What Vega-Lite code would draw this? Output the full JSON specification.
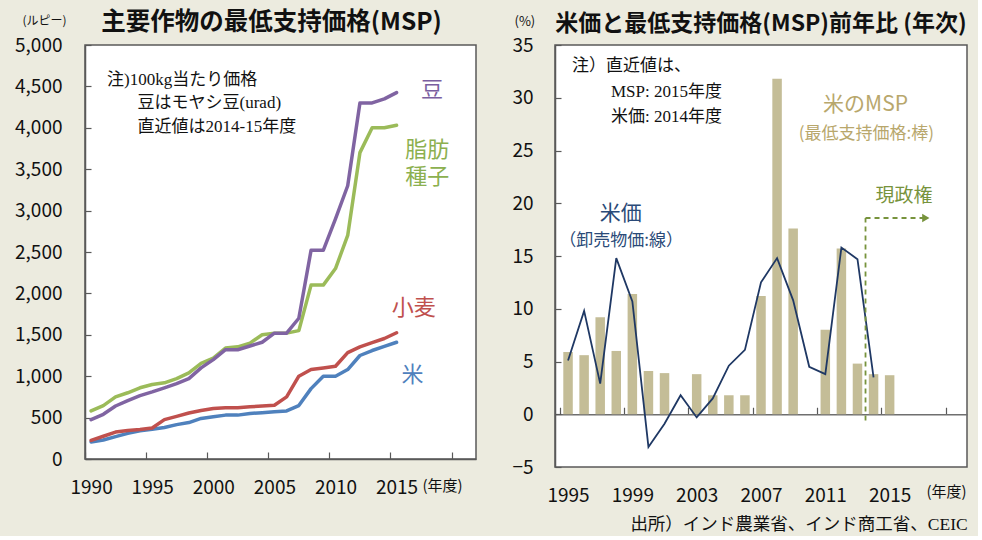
{
  "$schema": "https://vega.github.io/schema/vega-lite/v6.json",
  "background": "#ecebdf",
  "padding": {"left": 13, "top": 8, "right": 10, "bottom": 2},
  "config": {
    "font": "Noto Sans CJK JP",
    "view": {"stroke": "#595959", "strokeWidth": 1.5, "fill": "white"},
    "axis": {"labelFont": "Noto Sans CJK JP", "labelColor": "#111111", "labelFontSize": 19, "domainColor": "#595959", "domainWidth": 1.5, "tickColor": "#595959", "tickWidth": 1.2, "grid": false, "titleFont": "Noto Sans CJK JP", "titleFontWeight": "normal", "titleColor": "#111111"},
    "title": {"font": "Noto Sans CJK JP", "fontSize": 23, "fontWeight": "bold", "color": "#111111"}
  },
  "datasets": {
    "msp": [
      {"year": 1990, "crop": "米", "value": 205}, {"year": 1991, "crop": "米", "value": 230}, {"year": 1992, "crop": "米", "value": 270}, {"year": 1993, "crop": "米", "value": 310}, {"year": 1994, "crop": "米", "value": 340}, {"year": 1995, "crop": "米", "value": 360}, {"year": 1996, "crop": "米", "value": 380}, {"year": 1997, "crop": "米", "value": 415}, {"year": 1998, "crop": "米", "value": 440}, {"year": 1999, "crop": "米", "value": 490}, {"year": 2000, "crop": "米", "value": 510}, {"year": 2001, "crop": "米", "value": 530}, {"year": 2002, "crop": "米", "value": 530}, {"year": 2003, "crop": "米", "value": 550}, {"year": 2004, "crop": "米", "value": 560}, {"year": 2005, "crop": "米", "value": 570}, {"year": 2006, "crop": "米", "value": 580}, {"year": 2007, "crop": "米", "value": 645}, {"year": 2008, "crop": "米", "value": 850}, {"year": 2009, "crop": "米", "value": 1000}, {"year": 2010, "crop": "米", "value": 1000}, {"year": 2011, "crop": "米", "value": 1080}, {"year": 2012, "crop": "米", "value": 1250}, {"year": 2013, "crop": "米", "value": 1310}, {"year": 2014, "crop": "米", "value": 1360}, {"year": 2015, "crop": "米", "value": 1410},
      {"year": 1990, "crop": "小麦", "value": 225}, {"year": 1991, "crop": "小麦", "value": 275}, {"year": 1992, "crop": "小麦", "value": 325}, {"year": 1993, "crop": "小麦", "value": 345}, {"year": 1994, "crop": "小麦", "value": 355}, {"year": 1995, "crop": "小麦", "value": 375}, {"year": 1996, "crop": "小麦", "value": 475}, {"year": 1997, "crop": "小麦", "value": 515}, {"year": 1998, "crop": "小麦", "value": 555}, {"year": 1999, "crop": "小麦", "value": 585}, {"year": 2000, "crop": "小麦", "value": 610}, {"year": 2001, "crop": "小麦", "value": 620}, {"year": 2002, "crop": "小麦", "value": 620}, {"year": 2003, "crop": "小麦", "value": 630}, {"year": 2004, "crop": "小麦", "value": 640}, {"year": 2005, "crop": "小麦", "value": 650}, {"year": 2006, "crop": "小麦", "value": 750}, {"year": 2007, "crop": "小麦", "value": 1000}, {"year": 2008, "crop": "小麦", "value": 1080}, {"year": 2009, "crop": "小麦", "value": 1100}, {"year": 2010, "crop": "小麦", "value": 1120}, {"year": 2011, "crop": "小麦", "value": 1285}, {"year": 2012, "crop": "小麦", "value": 1355}, {"year": 2013, "crop": "小麦", "value": 1405}, {"year": 2014, "crop": "小麦", "value": 1455}, {"year": 2015, "crop": "小麦", "value": 1525},
      {"year": 1990, "crop": "脂肪種子", "value": 580}, {"year": 1991, "crop": "脂肪種子", "value": 645}, {"year": 1992, "crop": "脂肪種子", "value": 750}, {"year": 1993, "crop": "脂肪種子", "value": 800}, {"year": 1994, "crop": "脂肪種子", "value": 860}, {"year": 1995, "crop": "脂肪種子", "value": 900}, {"year": 1996, "crop": "脂肪種子", "value": 920}, {"year": 1997, "crop": "脂肪種子", "value": 970}, {"year": 1998, "crop": "脂肪種子", "value": 1040}, {"year": 1999, "crop": "脂肪種子", "value": 1155}, {"year": 2000, "crop": "脂肪種子", "value": 1220}, {"year": 2001, "crop": "脂肪種子", "value": 1340}, {"year": 2002, "crop": "脂肪種子", "value": 1355}, {"year": 2003, "crop": "脂肪種子", "value": 1400}, {"year": 2004, "crop": "脂肪種子", "value": 1500}, {"year": 2005, "crop": "脂肪種子", "value": 1520}, {"year": 2006, "crop": "脂肪種子", "value": 1520}, {"year": 2007, "crop": "脂肪種子", "value": 1550}, {"year": 2008, "crop": "脂肪種子", "value": 2100}, {"year": 2009, "crop": "脂肪種子", "value": 2100}, {"year": 2010, "crop": "脂肪種子", "value": 2300}, {"year": 2011, "crop": "脂肪種子", "value": 2700}, {"year": 2012, "crop": "脂肪種子", "value": 3700}, {"year": 2013, "crop": "脂肪種子", "value": 4000}, {"year": 2014, "crop": "脂肪種子", "value": 4000}, {"year": 2015, "crop": "脂肪種子", "value": 4030},
      {"year": 1990, "crop": "豆", "value": 475}, {"year": 1991, "crop": "豆", "value": 540}, {"year": 1992, "crop": "豆", "value": 640}, {"year": 1993, "crop": "豆", "value": 705}, {"year": 1994, "crop": "豆", "value": 765}, {"year": 1995, "crop": "豆", "value": 810}, {"year": 1996, "crop": "豆", "value": 860}, {"year": 1997, "crop": "豆", "value": 910}, {"year": 1998, "crop": "豆", "value": 970}, {"year": 1999, "crop": "豆", "value": 1100}, {"year": 2000, "crop": "豆", "value": 1200}, {"year": 2001, "crop": "豆", "value": 1320}, {"year": 2002, "crop": "豆", "value": 1320}, {"year": 2003, "crop": "豆", "value": 1365}, {"year": 2004, "crop": "豆", "value": 1410}, {"year": 2005, "crop": "豆", "value": 1520}, {"year": 2006, "crop": "豆", "value": 1520}, {"year": 2007, "crop": "豆", "value": 1700}, {"year": 2008, "crop": "豆", "value": 2520}, {"year": 2009, "crop": "豆", "value": 2520}, {"year": 2010, "crop": "豆", "value": 2900}, {"year": 2011, "crop": "豆", "value": 3300}, {"year": 2012, "crop": "豆", "value": 4300}, {"year": 2013, "crop": "豆", "value": 4300}, {"year": 2014, "crop": "豆", "value": 4350}, {"year": 2015, "crop": "豆", "value": 4425}
    ],
    "ricemsp": [
      {"year": 1995, "growth": 5.9}, {"year": 1996, "growth": 5.6}, {"year": 1997, "growth": 9.2}, {"year": 1998, "growth": 6.0}, {"year": 1999, "growth": 11.4}, {"year": 2000, "growth": 4.1}, {"year": 2001, "growth": 3.9}, {"year": 2002, "growth": 0.0}, {"year": 2003, "growth": 3.8}, {"year": 2004, "growth": 1.8}, {"year": 2005, "growth": 1.8}, {"year": 2006, "growth": 1.8}, {"year": 2007, "growth": 11.2}, {"year": 2008, "growth": 31.8}, {"year": 2009, "growth": 17.6}, {"year": 2010, "growth": 0.0}, {"year": 2011, "growth": 8.0}, {"year": 2012, "growth": 15.7}, {"year": 2013, "growth": 4.8}, {"year": 2014, "growth": 3.8}, {"year": 2015, "growth": 3.7}
    ],
    "ricewpi": [
      {"year": 1995, "growth": 5.1}, {"year": 1996, "growth": 9.8}, {"year": 1997, "growth": 2.9}, {"year": 1998, "growth": 14.8}, {"year": 1999, "growth": 10.7}, {"year": 2000, "growth": -3.1}, {"year": 2001, "growth": -0.9}, {"year": 2002, "growth": 1.8}, {"year": 2003, "growth": -0.3}, {"year": 2004, "growth": 1.5}, {"year": 2005, "growth": 4.6}, {"year": 2006, "growth": 6.1}, {"year": 2007, "growth": 12.5}, {"year": 2008, "growth": 14.8}, {"year": 2009, "growth": 10.8}, {"year": 2010, "growth": 4.5}, {"year": 2011, "growth": 3.8}, {"year": 2012, "growth": 15.8}, {"year": 2013, "growth": 14.7}, {"year": 2014, "growth": 3.5}
    ]
  },
  "title": {"text": "出所）インド農業省、インド商工省、CEIC", "orient": "bottom", "anchor": "end", "font": "Liberation Serif, Noto Sans CJK JP", "fontSize": 17.5, "fontWeight": "normal", "offset": 10},
  "spacing": 34,
  "hconcat": [
    {
      "width": 391,
      "height": 414,
      "title": {"text": "主要作物の最低支持価格(MSP)", "offset": -21, "dx": -9, "frame": "group", "fontSize": 24.5},
      "layer": [
        {
          "data": {"name": "msp"},
          "mark": {"type": "line", "strokeWidth": 3.5, "strokeCap": "round", "strokeJoin": "round"},
          "encoding": {
            "x": {"field": "year", "type": "quantitative", "scale": {"domain": [1989.5, 2021.5], "nice": false, "zero": false},
              "axis": {"values": [1990, 1995, 2000, 2005, 2010, 2015, 2020], "format": "d", "labelExpr": "datum.value == 2020 ? '' : datum.label", "tickOffset": -6.11, "labelOffset": 6.11, "tickSize": -7, "labelPadding": 26, "labelFlush": false, "labelOverlap": false, "title": "(年度)", "titleX": 337, "titleY": 26, "titleAlign": "left", "titleBaseline": "middle", "titleFontSize": 15, "titleAngle": 0}},
            "y": {"field": "value", "type": "quantitative", "scale": {"domain": [0, 5000], "nice": false},
              "axis": {"values": [0, 500, 1000, 1500, 2000, 2500, 3000, 3500, 4000, 4500, 5000], "format": ",d", "tickSize": -6, "labelPadding": 29, "title": "(ルピー)", "titleAngle": 0, "titleX": -63, "titleY": -25, "titleAlign": "left", "titleBaseline": "middle", "titleFontSize": 12}},
            "color": {"field": "crop", "type": "nominal", "scale": {"domain": ["米", "小麦", "脂肪種子", "豆"], "range": ["#4f81bd", "#c0504d", "#9bbb59", "#8064a2"]}, "legend": null}
          }
        },
        {"data": {"values": [{}]}, "mark": {"type": "text", "text": "注)100kg当たり価格", "align": "left", "baseline": "middle", "font": "Liberation Serif, Noto Sans CJK JP", "fontSize": 17, "color": "#111111"}, "encoding": {"x": {"datum": 1991.3}, "y": {"datum": 4577}}},
        {"data": {"values": [{}]}, "mark": {"type": "text", "text": "豆はモヤシ豆(urad)", "align": "left", "baseline": "middle", "font": "Liberation Serif, Noto Sans CJK JP", "fontSize": 17, "color": "#111111"}, "encoding": {"x": {"datum": 1993.8}, "y": {"datum": 4300}}},
        {"data": {"values": [{}]}, "mark": {"type": "text", "text": "直近値は2014-15年度", "align": "left", "baseline": "middle", "font": "Liberation Serif, Noto Sans CJK JP", "fontSize": 17, "color": "#111111"}, "encoding": {"x": {"datum": 1993.8}, "y": {"datum": 4010}}},
        {"data": {"values": [{}]}, "mark": {"type": "text", "text": "豆", "align": "center", "baseline": "middle", "fontSize": 22, "color": "#7a5ea0"}, "encoding": {"x": {"datum": 2017.9}, "y": {"datum": 4457}}},
        {"data": {"values": [{}]}, "mark": {"type": "text", "text": "脂肪", "align": "center", "baseline": "middle", "fontSize": 22, "color": "#8cb04f"}, "encoding": {"x": {"datum": 2017.5}, "y": {"datum": 3732}}},
        {"data": {"values": [{}]}, "mark": {"type": "text", "text": "種子", "align": "center", "baseline": "middle", "fontSize": 22, "color": "#8cb04f"}, "encoding": {"x": {"datum": 2017.5}, "y": {"datum": 3406}}},
        {"data": {"values": [{}]}, "mark": {"type": "text", "text": "小麦", "align": "center", "baseline": "middle", "fontSize": 22, "color": "#c0504d"}, "encoding": {"x": {"datum": 2016.4}, "y": {"datum": 1824}}},
        {"data": {"values": [{}]}, "mark": {"type": "text", "text": "米", "align": "center", "baseline": "middle", "fontSize": 22, "color": "#4f81bd"}, "encoding": {"x": {"datum": 2016.3}, "y": {"datum": 1014}}}
      ]
    },
    {
      "width": 412,
      "height": 422,
      "title": {"text": "米価と最低支持価格(MSP)前年比 (年次)", "offset": -21, "frame": "group"},
      "layer": [
        {
          "data": {"name": "ricemsp"},
          "mark": {"type": "bar", "orient": "vertical", "width": 9.5, "color": "#c4bd97"},
          "encoding": {
            "x": {"field": "year", "type": "quantitative", "scale": {"domain": [1994.5, 2019.5], "nice": false, "zero": false},
              "axis": {"values": [1995, 1999, 2003, 2007, 2011, 2015, 2019], "format": "d", "labelExpr": "datum.value == 2019 ? '' : datum.label", "tickOffset": -8.24, "labelOffset": 8.24, "tickSize": -7, "offset": -52.75, "labelPadding": 79, "labelFlush": false, "labelOverlap": false, "domainColor": "#6f6f6f", "title": "(年度)", "titleX": 371, "titleY": 77, "titleAlign": "left", "titleBaseline": "middle", "titleFontSize": 15, "titleAngle": 0}},
            "y": {"field": "growth", "type": "quantitative", "scale": {"domain": [-5, 35], "nice": false},
              "axis": {"values": [-5, 0, 5, 10, 15, 20, 25, 30, 35], "tickSize": -6, "labelPadding": 28, "title": "(%)", "titleAngle": 0, "titleX": -41, "titleY": -24, "titleAlign": "left", "titleBaseline": "middle", "titleFontSize": 13}}
          }
        },
        {
          "data": {"name": "ricewpi"},
          "mark": {"type": "line", "color": "#1f3864", "strokeWidth": 1.8},
          "encoding": {
            "x": {"field": "year", "type": "quantitative"},
            "y": {"field": "growth", "type": "quantitative"}
          }
        },
        {"data": {"values": [{}]}, "mark": {"type": "rule", "color": "#77933c", "strokeWidth": 1.8, "strokeDash": [5, 4]}, "encoding": {"x": {"datum": 2013.5}, "y": {"datum": -0.6}, "y2": {"datum": 18.6}}},
        {"data": {"values": [{}]}, "mark": {"type": "rule", "color": "#77933c", "strokeWidth": 1.8, "strokeDash": [5, 4]}, "encoding": {"x": {"datum": 2013.5}, "x2": {"datum": 2017.1}, "y": {"datum": 18.6}}},
        {"data": {"values": [{}]}, "mark": {"type": "point", "shape": "triangle-right", "filled": true, "size": 70, "color": "#77933c", "opacity": 1}, "encoding": {"x": {"datum": 2017.25}, "y": {"datum": 18.6}}},
        {"data": {"values": [{}]}, "mark": {"type": "text", "text": "注）直近値は、", "align": "left", "baseline": "middle", "font": "Liberation Serif, Noto Sans CJK JP", "fontSize": 17, "color": "#111111"}, "encoding": {"x": {"datum": 1995.24}, "y": {"datum": 33.0}}},
        {"data": {"values": [{}]}, "mark": {"type": "text", "text": "MSP: 2015年度", "align": "left", "baseline": "middle", "font": "Liberation Serif, Noto Sans CJK JP", "fontSize": 17, "color": "#111111"}, "encoding": {"x": {"datum": 1997.67}, "y": {"datum": 30.5}}},
        {"data": {"values": [{}]}, "mark": {"type": "text", "text": "米価: 2014年度", "align": "left", "baseline": "middle", "font": "Liberation Serif, Noto Sans CJK JP", "fontSize": 17, "color": "#111111"}, "encoding": {"x": {"datum": 1997.67}, "y": {"datum": 28.2}}},
        {"data": {"values": [{}]}, "mark": {"type": "text", "text": "米価", "align": "center", "baseline": "middle", "fontSize": 21, "color": "#2a4a78"}, "encoding": {"x": {"datum": 1998.28}, "y": {"datum": 19.0}}},
        {"data": {"values": [{}]}, "mark": {"type": "text", "text": "（卸売物価:線）", "align": "center", "baseline": "middle", "fontSize": 17, "color": "#2a4a78"}, "encoding": {"x": {"datum": 1998.3}, "y": {"datum": 16.4}}},
        {"data": {"values": [{}]}, "mark": {"type": "text", "text": "米のMSP", "align": "center", "baseline": "middle", "fontSize": 21, "color": "#b8a76c"}, "encoding": {"x": {"datum": 2013.5}, "y": {"datum": 29.3}}},
        {"data": {"values": [{}]}, "mark": {"type": "text", "text": "(最低支持価格:棒)", "align": "center", "baseline": "middle", "fontSize": 17, "color": "#b8a76c"}, "encoding": {"x": {"datum": 2013.55}, "y": {"datum": 26.6}}},
        {"data": {"values": [{}]}, "mark": {"type": "text", "text": "現政権", "align": "center", "baseline": "middle", "fontSize": 19, "color": "#77933c"}, "encoding": {"x": {"datum": 2015.9}, "y": {"datum": 20.7}}}
      ]
    }
  ]
}
